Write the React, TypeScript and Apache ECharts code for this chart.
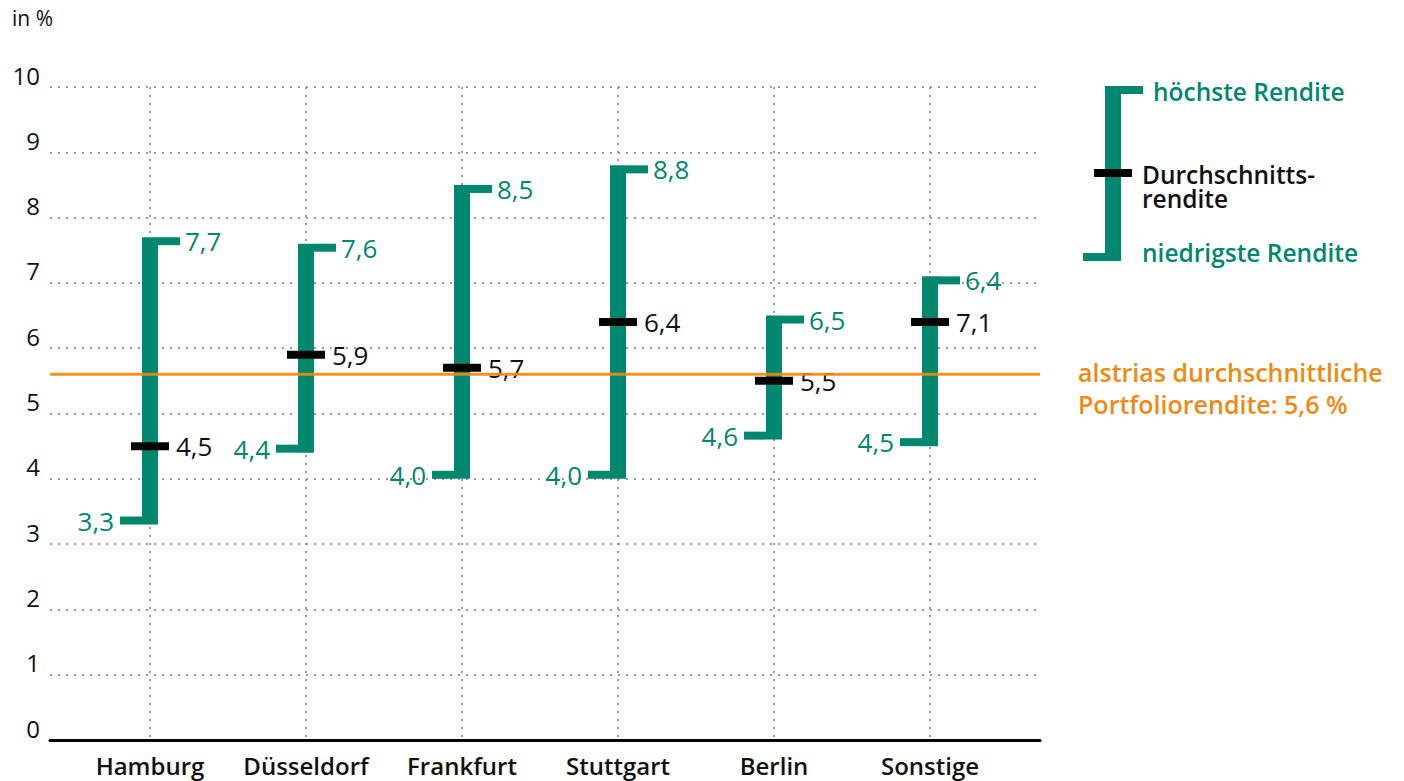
import React, { useEffect, useRef } from "react";
import * as echarts from "echarts";

const categories = ["Hamburg", "Düsseldorf", "Frankfurt", "Stuttgart", "Berlin", "Sonstige"];
const highs = [7.7, 7.6, 8.5, 8.8, 6.5, 7.1];
const lows = [3.3, 4.4, 4.0, 4.0, 4.6, 4.5];
const avgs = [4.5, 5.9, 5.7, 6.4, 5.5, 6.4];
const highLabels = ["7,7", "7,6", "8,5", "8,8", "6,5", "6,4"];
const lowLabels = ["3,3", "4,4", "4,0", "4,0", "4,6", "4,5"];
const avgLabels = ["4,5", "5,9", "5,7", "6,4", "5,5", "7,1"];
const portfolioAvg = 5.6;
const yTicks = [0, 10, 1]; // min, max, interval

const GREEN = "#00876F";
const ORANGE = "#EE8A12";
const FONT = "'Open Sans', 'Noto Sans', sans-serif";

export default function App() {
  const ref = useRef<HTMLDivElement>(null);
  useEffect(() => {
    document.body.style.margin = "0";
    const chart = echarts.init(ref.current!, null, { renderer: "svg" });
    const dotted = { color: "#9a9a9a", width: 2, type: [2, 6] as any };
    const legendFont = `600 24.5px ${FONT}`;
    const option: any = {
      animation: false,
      textStyle: { fontFamily: FONT },
      grid: [
        { left: 50, right: 364, top: 87, bottom: 41 },
        { left: 150, right: 474, top: 87, bottom: 41 },
      ],
      xAxis: [
        {
          gridIndex: 0,
          type: "value",
          min: 0,
          max: 1,
          axisLine: { show: true, onZero: false, lineStyle: { color: "#000", width: 3 } },
          axisTick: { show: false },
          axisLabel: { show: false },
          splitLine: { show: false },
        },
        {
          gridIndex: 1,
          type: "category",
          data: categories,
          boundaryGap: false,
          axisLine: { show: false },
          axisTick: { show: false },
          axisLabel: {
            interval: 0,
            hideOverlap: false,
            margin: 13,
            color: "#111",
            fontSize: 24,
            fontWeight: 600,
            fontFamily: FONT,
          },
          splitLine: { show: true, interval: 0, lineStyle: dotted },
        },
      ],
      yAxis: [
        {
          gridIndex: 0,
          type: "value",
          min: yTicks[0],
          max: yTicks[1],
          interval: yTicks[2],
          axisLine: { show: false },
          axisTick: { show: false },
          axisLabel: { margin: 10, color: "#111", fontSize: 24, fontFamily: FONT, verticalAlign: "bottom", lineHeight: 24 },
          splitLine: { show: true, lineStyle: dotted },
        },
        {
          gridIndex: 1,
          type: "value",
          min: yTicks[0],
          max: yTicks[1],
          interval: yTicks[2],
          show: false,
          splitLine: { show: false },
        },
      ],
      graphic: [
        { type: "text", left: 12, top: 7, style: { text: "in %", fill: "#111", font: `21px ${FONT}` } },
        // legend
        { type: "rect", shape: { x: 1105, y: 86, width: 16, height: 175 }, style: { fill: GREEN } },
        { type: "rect", shape: { x: 1121, y: 86, width: 22, height: 8 }, style: { fill: GREEN } },
        { type: "rect", shape: { x: 1083, y: 253, width: 22, height: 8 }, style: { fill: GREEN } },
        { type: "rect", shape: { x: 1094, y: 169, width: 38, height: 8 }, style: { fill: "#000" } },
        { type: "text", x: 1153, y: 91, style: { text: "höchste Rendite", fill: GREEN, font: legendFont, verticalAlign: "middle" } },
        { type: "text", x: 1142, y: 174, style: { text: "Durchschnitts-", fill: "#111", font: legendFont, verticalAlign: "middle", lineHeight: 22 } },
        { type: "text", x: 1142, y: 198, style: { text: "rendite", fill: "#111", font: legendFont, verticalAlign: "middle", lineHeight: 22 } },
        { type: "text", x: 1142, y: 252, style: { text: "niedrigste Rendite", fill: GREEN, font: legendFont, verticalAlign: "middle" } },
        { type: "text", x: 1078, y: 372, style: { text: "alstrias durchschnittliche", fill: ORANGE, font: `600 25px ${FONT}`, verticalAlign: "middle" } },
        { type: "text", x: 1078, y: 404, style: { text: "Portfoliorendite: 5,6 %", fill: ORANGE, font: `600 25px ${FONT}`, verticalAlign: "middle" } },
      ],
      series: [
        {
          type: "line",
          xAxisIndex: 0,
          yAxisIndex: 0,
          data: [[0, portfolioAvg], [1, portfolioAvg]],
          symbol: "none",
          lineStyle: { color: ORANGE, width: 3, opacity: 0.92 },
          z: 5,
          silent: true,
        },
        {
          type: "custom",
          xAxisIndex: 1,
          yAxisIndex: 1,
          clip: false,
          z: 3,
          data: categories.map((_, i) => [i, lows[i], highs[i], avgs[i]]),
          renderItem: (params: any, api: any) => {
            const i = api.value(0);
            const pTop = api.coord([i, api.value(2)]);
            const pBot = api.coord([i, api.value(1)]);
            const pAvg = api.coord([i, api.value(3)]);
            const x = pTop[0];
            const idx = params.dataIndex;
            const labelFont = `26px ${FONT}`;
            return {
              type: "group",
              children: [
                { type: "rect", shape: { x: x - 8, y: pTop[1], width: 16, height: pBot[1] - pTop[1] }, style: { fill: GREEN } },
                { type: "rect", shape: { x: x + 8, y: pTop[1], width: 22, height: 8 }, style: { fill: GREEN } },
                { type: "rect", shape: { x: x - 30, y: pBot[1] - 8, width: 22, height: 8 }, style: { fill: GREEN } },
                { type: "rect", shape: { x: x - 19, y: pAvg[1] - 4, width: 38, height: 8 }, style: { fill: "#000" } },
                { type: "text", x: x + 35, y: pTop[1] + 4, style: { text: highLabels[idx], fill: GREEN, font: labelFont, align: "left", verticalAlign: "middle" } },
                { type: "text", x: x - 36, y: pBot[1] - 4, style: { text: lowLabels[idx], fill: GREEN, font: labelFont, align: "right", verticalAlign: "middle" } },
                { type: "text", x: x + 26, y: pAvg[1], style: { text: avgLabels[idx], fill: "#111", font: labelFont, align: "left", verticalAlign: "middle" } },
              ],
            };
          },
        },
      ],
    };
    chart.setOption(option);
    return () => chart.dispose();
  }, []);
  return <div ref={ref} style={{ width: 1404, height: 781 }} />;
}
